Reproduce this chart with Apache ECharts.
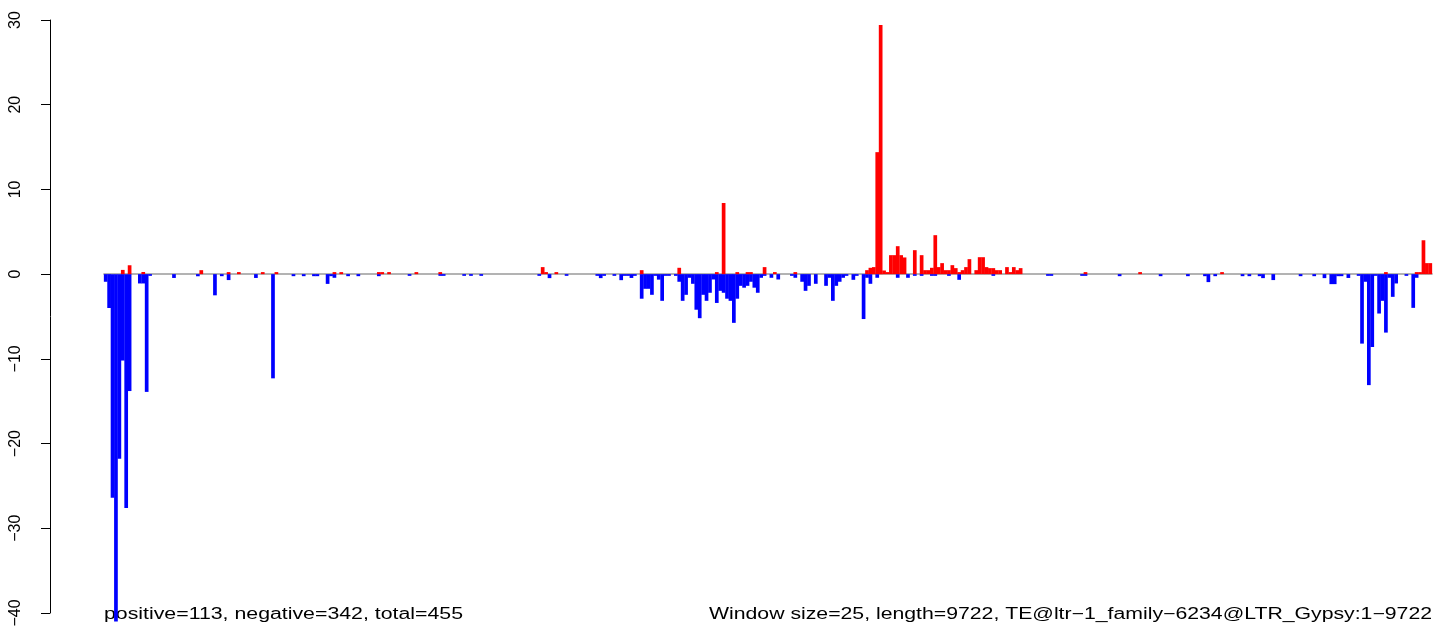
<!DOCTYPE html>
<html>
<head>
<meta charset="utf-8">
<script src="https://cdn.jsdelivr.net/npm/echarts@6/dist/echarts.min.js"></script>
<style>
html,body{margin:0;padding:0;background:#fff;}
#chart{width:1444px;height:634px;}
</style>
</head>
<body>
<div id="chart"></div>
<script>
// ---- data ----
const windowCount = 389;            // 9722 bp / window size 25
const yTicks = [-40, -30, -20, -10, 0, 10, 20, 30];
// [window index, value] for windows with a non-zero negative value
const negativeBars = [
  [0,-0.9],[1,-4.0],[2,-26.4],[3,-41],[4,-21.8],[5,-10.2],[6,-27.6],[7,-13.8],[10,-1.1],[11,-1.1],
  [12,-13.9],[13,-0.2],[20,-0.45],[27,-0.25],[32,-2.5],[34,-0.24],[36,-0.7],[44,-0.45],[49,-12.3],[55,-0.24],
  [58,-0.24],[61,-0.24],[62,-0.24],[65,-1.15],[66,-0.24],[67,-0.43],[71,-0.24],[74,-0.24],[80,-0.24],[89,-0.2],
  [98,-0.2],[99,-0.2],[105,-0.2],[107,-0.2],[110,-0.2],[127,-0.2],[130,-0.47],[135,-0.2],[144,-0.2],[145,-0.47],
  [146,-0.2],[149,-0.2],[151,-0.71],[152,-0.2],[153,-0.2],[154,-0.45],[155,-0.2],[157,-2.9],[158,-1.73],[159,-1.73],
  [160,-2.44],[161,-0.2],[162,-0.65],[163,-3.15],[164,-0.2],[165,-0.2],[167,-0.2],[168,-0.9],[169,-3.15],[170,-2.44],
  [171,-0.43],[172,-1.14],[173,-4.2],[174,-5.2],[175,-2.44],[176,-3.15],[177,-2.2],[178,-0.63],[179,-3.4],[180,-1.97],
  [181,-2.2],[182,-2.9],[183,-3.15],[184,-5.75],[185,-2.9],[186,-1.38],[187,-1.6],[188,-1.38],[189,-0.9],[190,-1.6],
  [191,-2.2],[192,-0.43],[193,-0.2],[195,-0.43],[197,-0.63],[201,-0.2],[202,-0.43],[204,-0.9],[205,-1.97],[206,-1.38],
  [208,-1.14],[211,-1.38],[212,-0.43],[213,-3.15],[214,-1.38],[215,-0.9],[216,-0.43],[217,-0.2],[219,-0.67],[220,-0.2],
  [222,-5.3],[223,-0.43],[224,-1.14],[226,-0.43],[232,-0.43],[235,-0.43],[237,-0.2],[239,-0.2],[242,-0.2],[243,-0.2],
  [247,-0.2],[250,-0.67],[260,-0.2],[276,-0.2],[277,-0.2],[286,-0.2],[287,-0.2],[297,-0.24],[309,-0.24],[317,-0.24],
  [322,-0.24],[323,-0.94],[325,-0.24],[333,-0.24],[335,-0.24],[338,-0.24],[339,-0.47],[342,-0.7],[350,-0.24],[354,-0.24],
  [357,-0.47],[359,-1.18],[360,-1.18],[361,-0.24],[362,-0.24],[364,-0.45],[367,-0.2],[368,-8.2],[369,-0.9],[370,-13.1],
  [371,-8.6],[372,-0.2],[373,-4.65],[374,-3.15],[375,-6.9],[376,-0.43],[377,-2.68],[378,-1.1],[381,-0.2],[383,-3.98],
  [384,-0.43]
];
// [window index, value] for windows with a non-zero positive value
const positiveBars = [
  [5,0.5],[7,1.05],[11,0.25],[28,0.47],[36,0.24],[39,0.24],[46,0.24],[50,0.24],[67,0.24],[69,0.24],
  [80,0.24],[81,0.24],[83,0.24],[91,0.24],[98,0.24],[128,0.83],[129,0.24],[132,0.24],[157,0.47],[168,0.75],
  [179,0.24],[181,8.4],[185,0.24],[188,0.24],[189,0.24],[193,0.83],[196,0.24],[202,0.24],[223,0.47],[224,0.75],
  [225,0.83],[226,14.4],[227,29.4],[228,0.43],[229,0.24],[230,2.24],[231,2.24],[232,3.3],[233,2.24],[234,1.97],
  [237,2.83],[239,2.24],[240,0.47],[241,0.47],[242,0.75],[243,4.6],[244,0.83],[245,1.3],[246,0.47],[247,0.47],
  [248,1.06],[249,0.71],[250,0.24],[251,0.47],[252,0.83],[253,1.77],[255,0.47],[256,2.0],[257,2.0],[258,0.83],
  [259,0.71],[260,0.71],[261,0.47],[262,0.47],[264,0.83],[265,0.24],[266,0.83],[267,0.47],[268,0.71],[287,0.24],
  [303,0.24],[327,0.24],[375,0.24],[384,0.24],[385,0.24],[386,4.0],[387,1.3],[388,1.3]
];
const leftNote = 'positive=113, negative=342, total=455';
const rightNote = 'Window size=25, length=9722, TE@ltr\u22121_family\u22126234@LTR_Gypsy:1\u22129722';

// ---- build full series ----
const categories = [];
const negativeValues = [];
const positiveValues = [];
for (let i = 0; i < windowCount; i++) {
  categories.push(String(i + 1));
  negativeValues.push(0);
  positiveValues.push(0);
}
negativeBars.forEach(([i, v]) => { negativeValues[i] = v; });
positiveBars.forEach(([i, v]) => { positiveValues[i] = v; });

// ---- chart ----
const FONT = '"Liberation Sans", Arial, Helvetica, sans-serif';
function fitScale(text, size, target) {
  const c = document.createElement('canvas').getContext('2d');
  c.font = size + 'px ' + FONT;
  return target / c.measureText(text).width;
}
const chart = echarts.init(document.getElementById('chart'), null, {renderer: 'canvas'});
chart.setOption({
  animation: false,
  backgroundColor: '#ffffff',
  grid: {left: 104, right: 12, top: 20, bottom: 21, containLabel: false},
  xAxis: {
    type: 'category',
    data: categories,
    boundaryGap: true,
    axisLine: {show: true, onZero: true, lineStyle: {color: '#9a9a9a', width: 1.6}},
    axisTick: {show: false},
    axisLabel: {show: false},
    splitLine: {show: false}
  },
  yAxis: {
    type: 'value',
    min: yTicks[0], max: yTicks[yTicks.length - 1], interval: 10,
    offset: 54,
    axisLine: {show: true, lineStyle: {color: '#000', width: 1}},
    axisTick: {show: true, length: 9, lineStyle: {color: '#000', width: 1}},
    axisLabel: {
      rotate: 90, margin: 26, color: '#000', fontSize: 16, fontFamily: FONT,
      formatter: v => (v < 0 ? '\u2212' + Math.abs(v) : String(v))
    },
    splitLine: {show: false}
  },
  series: [
    {
      name: 'negative', type: 'bar', data: negativeValues,
      barWidth: 3.7, barGap: '-100%', clip: false,
      itemStyle: {color: '#0000ff'}, z: 3
    },
    {
      name: 'positive', type: 'bar', data: positiveValues,
      barWidth: 3.7, barGap: '-100%', clip: false,
      itemStyle: {color: '#ff0000'}, z: 4
    }
  ],
  graphic: [
    {
      type: 'text', x: 104, y: 615,
      scaleX: fitScale(leftNote, 16, 359),
      style: {text: leftNote, x: 0, y: 0, font: '16px ' + FONT, fill: '#000', textAlign: 'left', textVerticalAlign: 'middle'}
    },
    {
      type: 'text', x: 1432, y: 615,
      scaleX: fitScale(rightNote, 16, 723),
      style: {text: rightNote, x: 0, y: 0, font: '16px ' + FONT, fill: '#000', textAlign: 'right', textVerticalAlign: 'middle'}
    }
  ]
});
</script>
</body>
</html>
